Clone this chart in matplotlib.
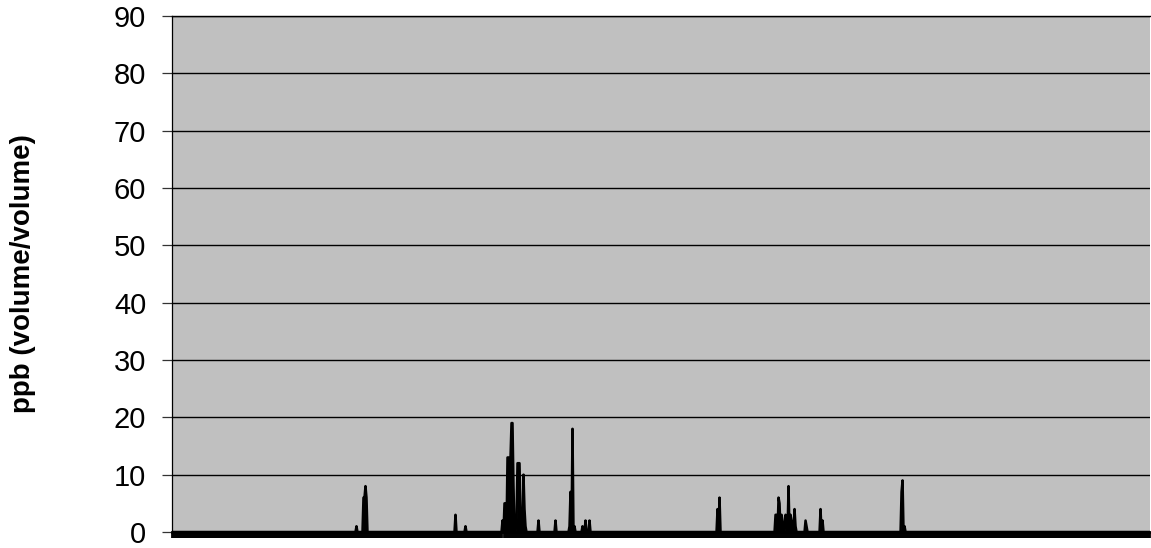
import numpy as np
import matplotlib
matplotlib.use("Agg")
import matplotlib.pyplot as plt

# number of samples along the x axis (no labels shown in the original)
n_samples = 978

# samples that are above zero, and their readings in ppb
spike_idx = [184, 191, 192, 193, 194, 283, 293, 330, 332, 333, 335, 336, 337,
             338, 339, 340, 341, 344, 345, 346, 347, 348, 349, 350, 351, 352,
             353, 366, 383, 397, 398, 400, 402, 410, 413, 417, 545, 547, 603,
             604, 606, 607, 609, 610, 613, 614, 616, 618, 619, 622, 623, 633,
             634, 648, 650, 729, 730, 732]
spike_val = [1, 6, 6, 8, 6, 3, 1, 2, 5, 5, 13, 13, 13, 13, 19, 19, 8, 2, 12,
             12, 12, 3, 3, 1, 10, 4, 1, 2, 2, 1, 7, 18, 1, 1, 2, 2, 4, 6, 3, 3,
             6, 5, 3, 2, 3, 2, 8, 3, 2, 4, 1, 2, 1, 4, 2, 7, 9, 1]

y_ticks = [0, 10, 20, 30, 40, 50, 60, 70, 80, 90]

ppb = np.zeros(n_samples)
ppb[spike_idx] = spike_val
x = np.arange(n_samples)

plt.rcParams['font.family'] = ['Liberation Sans', 'DejaVu Sans']

fig = plt.figure(figsize=(11.51, 5.48), dpi=100)
ax = fig.add_axes([0.1494, 0.0292, 0.8498, 0.9416])
ax.set_facecolor('#C0C0C0')

# thick excel-style line, filled underneath so the dense bursts read solid
ax.fill_between(x, ppb, 0, color='black', linewidth=0, zorder=3)
ax.plot(x, ppb, color='black', linewidth=1.8, zorder=3)

ax.set_xlim(-0.5, n_samples - 0.5)
ax.set_ylim(0, 90)
ax.set_yticks(y_ticks)
ax.yaxis.grid(True, color='black', linewidth=1.0)
ax.set_axisbelow(True)

# dense category tick marks make the solid black band under the plot
ax.set_xticks(x)
ax.set_xticklabels([])
ax.tick_params(axis='x', direction='out', length=4.5, width=1.3, color='black')
ax.tick_params(axis='y', direction='out', length=7.5, width=0.9,
               color='#333333', labelsize=21, pad=11)

ax.spines['right'].set_visible(False)
ax.spines['left'].set_color('black')
ax.spines['left'].set_linewidth(0.9)
ax.spines['bottom'].set_linewidth(2.0)
ax.spines['top'].set_linewidth(1.0)

ax.set_ylabel('ppb (volume/volume)', fontsize=20, fontweight='bold', labelpad=56)

plt.savefig('out.png', dpi=100)
